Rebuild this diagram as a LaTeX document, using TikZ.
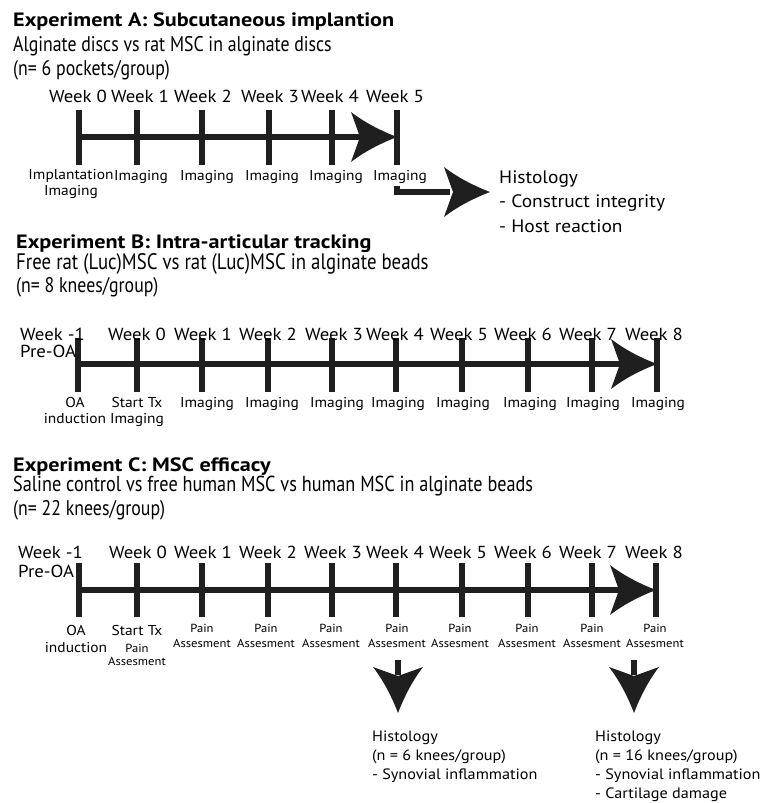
\documentclass[tikz,border=0pt]{standalone}
\usepackage{fontspec}
\setmainfont[FakeStretch=1.08]{PT Sans}
\newfontfamily\condf[FakeStretch=0.84]{PT Sans}
\newfontfamily\ttlf[FakeStretch=1.15]{PT Sans}
\usetikzlibrary{calc}
\tikzset{
  ttl/.style={anchor=base west, inner sep=0pt, font=\ttlf\fontsize{19.3}{20}\selectfont\bfseries},
  sub/.style={anchor=base west, inner sep=0pt, font=\condf\fontsize{#1}{24}\selectfont},
  sub/.default=21.2,
  wk/.style={anchor=base, inner sep=0pt, font=\fontsize{17.4}{18}\selectfont},
  wkl/.style={anchor=base west, inner sep=0pt, font=\fontsize{17.4}{18}\selectfont},
  lbl/.style={anchor=base, inner sep=0pt, align=center, font=\fontsize{14.3}{15.5}\selectfont},
  pain/.style={anchor=base, inner sep=0pt, align=center, font=\fontsize{11.7}{15}\selectfont},
  hist/.style={anchor=base west, inner sep=0pt, align=left, font=\fontsize{18}{24.5}\selectfont},
  histc/.style={anchor=base west, inner sep=0pt, align=left, font=\fontsize{15}{19}\selectfont},
  axisline/.style={line width=6pt, color=black!88},
  tickline/.style={line width=5.5pt, color=black!88},
}
\newcommand\bighead[2]{%
  \fill[black!88, shift={(#1)}, rotate=#2] (0,0) .. controls (-18,-7) and (-33,-15) .. (-46,-25)
    -- (-37,0) -- (-46,25) .. controls (-33,15) and (-18,7) .. (0,0) -- cycle;}
\begin{document}
\begin{tikzpicture}[x=1pt,y=-1pt]
\useasboundingbox[fill=white] (0,0) rectangle (762,803);

% ---------------- Experiment A
\node[ttl] (tA) at (13,26) {Experiment A: Subcutaneous implantion};
\node[sub] (sA) at (13,51) {Alginate discs vs rat MSC in alginate discs};
\node[sub] (nA) at (13,75) {(n= 6 pockets/group)};

\foreach \n/\x in {0/79,1/137,2/202,3/269,4/332,5/397} {
  \coordinate (a\n) at (\x,137);
  \draw[tickline] ($(a\n)+(0,-27)$) -- ($(a\n)+(0,28)$);
}
\draw[axisline] (a0) -- ($(a5)+(-35,0)$);
\bighead{a5}{0}

\foreach \n/\x in {0/78,1/140,2/203,3/270,4/330,5/395}
  \node[wk] (wA\n) at (\x,102) {Week \n};
\node[lbl] (lA0) at (71,195) {Implantation\\Imaging};
\foreach \n/\x in {1/141,2/207,3/272,4/336,5/400}
  \node[lbl] (lA\n) at (\x,180) {Imaging};

\coordinate (hAs) at (397,186);
\coordinate (hAt) at (490,192);
\draw[axisline, line join=miter] (hAs) |- ($(hAt)+(-40,0)$);
\bighead{hAt}{0}
\node[hist] (hA) at (499,232) {Histology\\- Construct integrity\\- Host reaction};

% ---------------- Experiment B
\node[ttl] (tB) at (16,248) {Experiment B: Intra-articular tracking};
\node[sub=22.4] (sB) at (16,269) {Free rat (Luc)MSC vs rat (Luc)MSC in alginate beads};
\node[sub] (nB) at (16,292) {(n= 8 knees/group)};

\foreach \n/\x in {m/78,0/137,1/202,2/268,3/332,4/396,5/462,6/528,7/592,8/657} {
  \coordinate (b\n) at (\x,364);
  \draw[tickline] ($(b\n)+(0,-26)$) -- ($(b\n)+(0,28)$);
}
\draw[axisline] (bm) -- ($(b8)+(-35,0)$);
\bighead{b8}{0}

\node[wkl] (wBm) at (20,340) {Week -1};
\node[wkl] (pB) at (20,357) {Pre-OA};
\foreach \n/\x in {0/137,1/203,2/268,3/334,4/395,5/459,6/523,7/588,8/654}
  \node[wk] (wB\n) at (\x,340) {Week \n};
\node[lbl] (lBm) at (75,423) {OA\\[0.5pt]induction};
\node[lbl] (lB0) at (137,423) {Start Tx\\[0.5pt]Imaging};
\foreach \n/\x in {1/207,2/272,3/337,4/398,5/463,6/530,7/593,8/658}
  \node[lbl] (lB\n) at (\x,407) {Imaging};

% ---------------- Experiment C
\node[ttl] (tC) at (13,471) {Experiment C: MSC efficacy};
\node[sub=21.7] (sC) at (13,491) {Saline control vs free human MSC vs human MSC in alginate beads};
\node[sub] (nC) at (13,515) {(n= 22 knees/group)};

\foreach \n/\x in {m/79,0/137,1/202,2/268,3/332,4/396,5/462,6/528,7/592,8/656} {
  \coordinate (c\n) at (\x,590);
  \draw[tickline] ($(c\n)+(0,-27)$) -- ($(c\n)+(0,27)$);
}
\draw[axisline] (cm) -- ($(c8)+(-35,0)$);
\bighead{c8}{0}

\node[wkl] (wCm) at (18,558) {Week -1};
\node[wkl] (pC) at (18,577) {Pre-OA};
\foreach \n/\x in {0/138,1/203,2/268,3/333,4/395,5/458,6/523,7/588,8/654}
  \node[wk] (wC\n) at (\x,558) {Week \n};
\node[lbl] (lCm) at (76,652) {OA\\[1.5pt]induction};
\node[lbl] (lC0) at (137,635) {Start Tx};
\node[pain] (pC0) at (137,665) {Pain\\[-2pt]Assesment};
\foreach \n/\x in {1/202,2/266,3/331,4/397,5/460,6/527,7/592,8/655}
  \node[pain] (lC\n) at (\x,647) {Pain\\Assesment};

\coordinate (d1s) at (398,660);
\coordinate (d1t) at (398,713);
\draw[axisline] (d1s) -- ($(d1t)+(0,-38)$);
\bighead{d1t}{-90}
\coordinate (d2s) at (634,660);
\coordinate (d2t) at (634,713);
\draw[axisline] (d2s) -- ($(d2t)+(0,-38)$);
\bighead{d2t}{-90}

\node[histc] (hC1) at (372,779) {Histology\\(n = 6 knees/group)\\- Synovial inflammation};
\node[histc] (hC2) at (595,798) {Histology\\(n = 16 knees/group)\\- Synovial inflammation\\- Cartilage damage};
\end{tikzpicture}
\end{document}
